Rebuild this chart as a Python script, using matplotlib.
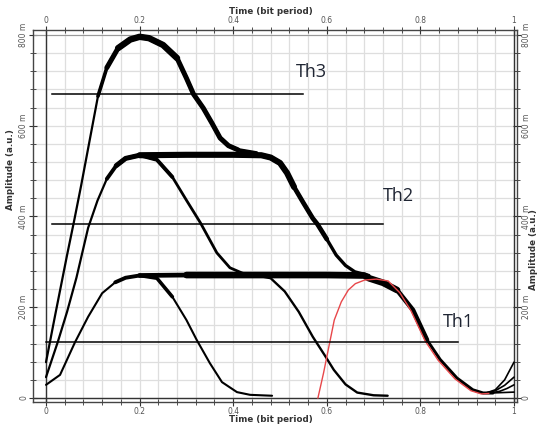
import matplotlib.pyplot as plt
import numpy as np

# eye diagram traces, time in bit period, amplitude in milli a.u.
t_top = [0, 0.02, 0.045, 0.06, 0.075, 0.09, 0.111, 0.13, 0.154, 0.18, 0.2, 0.22,
         0.25, 0.28, 0.30, 0.315, 0.336, 0.355, 0.372, 0.39, 0.41, 0.45]
y_top = [79, 185, 315, 390, 468, 550, 665, 728, 771, 790, 796, 793,
         778, 749, 705, 670, 639, 605, 573, 556, 547, 540]

t_l2_rise = [0, 0.025, 0.045, 0.065, 0.09, 0.11, 0.13, 0.15, 0.17, 0.2]
y_l2_rise = [46, 123, 190, 265, 375, 435, 483, 512, 528, 535]

t_l2_flat = [0.2, 0.3, 0.4, 0.46, 0.48, 0.50, 0.515, 0.53, 0.55, 0.57, 0.58,
             0.60, 0.62, 0.64, 0.66, 0.69]
y_l2_flat = [535, 536, 536, 535, 530, 518, 496, 465, 430, 396, 383,
             350, 315, 292, 278, 270]

t_l2_fall = [0.2, 0.237, 0.27, 0.30, 0.33, 0.365, 0.393, 0.42, 0.45]
y_l2_fall = [535, 525, 487, 436, 386, 320, 287, 275, 270]

t_l1_rise = [0, 0.03, 0.062, 0.09, 0.12, 0.148, 0.17, 0.2]
y_l1_rise = [29, 51, 123, 179, 231, 255, 265, 270]

t_l1_flat = [0.2, 0.3, 0.45, 0.6, 0.68, 0.69, 0.72, 0.75, 0.784, 0.814, 0.842,
             0.878, 0.912, 0.934, 0.955]
y_l1_flat = [270, 271, 271, 271, 270, 264, 254, 238, 194, 128, 85,
             44, 18, 11, 11]

t_l1_fall = [0.2, 0.237, 0.27, 0.30, 0.322, 0.35, 0.376, 0.408, 0.436, 0.483]
y_l1_fall = [270, 264, 223, 172, 128, 77, 35, 13, 7, 5]

t_l1_fall2 = [0.45, 0.48, 0.51, 0.54, 0.57, 0.595, 0.615, 0.64, 0.665, 0.70, 0.73]
y_l1_fall2 = [270, 264, 235, 190, 135, 95, 62, 30, 12, 6, 5]

t_red = [0.585, 0.597, 0.607, 0.62, 0.635, 0.65, 0.665, 0.685, 0.71, 0.735, 0.76,
         0.784, 0.814, 0.842, 0.878, 0.912, 0.934, 0.95]
y_red = [0, 55, 106, 172, 212, 238, 252, 260, 262, 258, 232,
         192, 126, 83, 42, 16, 9, 10]

t_end = [[0.94, 0.96, 0.98, 1.0], [0.94, 0.96, 0.98, 1.0],
         [0.95, 0.97, 0.985, 1.0], [0.95, 1.0]]
y_end = [[11, 18, 40, 79], [11, 16, 28, 46], [11, 15, 21, 29], [11, 13]]

# thresholds
th_names = ['Th1', 'Th2', 'Th3']
th_level = [123, 383, 670]
th_start = [0.0, 0.013, 0.013]
th_end = [0.88, 0.72, 0.549]
th_text_x = [0.848, 0.72, 0.534]
th_text_y = [167, 445, 718]

xticks = [0, 0.2, 0.4, 0.6, 0.8, 1.0]
xticklabels = ['0', '0.2', '0.4', '0.6', '0.8', '1']
yticks = [0, 200, 400, 600, 800]
yticklabels = ['0', '200 m', '400 m', '600 m', '800 m']

W, H = 539, 429
fig = plt.figure(figsize=(W / 100, H / 100), dpi=100)
ax = fig.add_axes([33 / W, 1 - 402 / H, 484 / W, 372 / H])
ax.set_xlim(-0.0278, 1.0064)
ax.set_ylim(-8.8, 811)

ax.set_xticks(xticks)
ax.set_xticks(np.arange(0, 1.001, 0.04), minor=True)
ax.set_yticks(yticks)
ax.set_yticks(np.arange(0, 801, 40), minor=True)
ax.grid(True, which='both', color='#dedede', lw=0.9)
ax.set_axisbelow(True)

ax.axhline(0, color='#333333', lw=1.0, zorder=1)
ax.axhline(800, color='#999999', lw=0.8, zorder=1)
ax.axvline(0, color='#333333', lw=1.0, zorder=1)
ax.axvline(1, color='#333333', lw=1.0, zorder=1)


def draw(t, y, lw, bands=()):
    kw = dict(color='black', solid_capstyle='round', solid_joinstyle='round', zorder=3)
    ax.plot(t, y, lw=lw, **kw)
    t = np.array(t)
    y = np.array(y)
    for a, b, w in bands:
        m = (t >= a) & (t <= b)
        ax.plot(t[m], y[m], lw=w, **kw)


draw(t_top, y_top, 1.6, [(0.111, 0.45, 2.6), (0.13, 0.42, 3.6), (0.154, 0.28, 4.6)])
draw(t_l2_rise, y_l2_rise, 1.6, [(0.13, 0.2, 2.8), (0.15, 0.2, 3.6)])
draw(t_l2_flat, y_l2_flat, 2.4, [(0.2, 0.6, 3.4), (0.2, 0.53, 4.4)])
draw(t_l2_fall, y_l2_fall, 2.0, [(0.2, 0.27, 2.8)])
draw(t_l1_rise, y_l1_rise, 1.5, [(0.148, 0.2, 2.8)])
draw(t_l1_flat, y_l1_flat, 2.2, [(0.2, 0.814, 3.4), (0.3, 0.75, 4.8)])
draw(t_l1_fall, y_l1_fall, 1.5, [(0.2, 0.27, 2.6)])
draw(t_l1_fall2, y_l1_fall2, 1.7)
for te, ye in zip(t_end, y_end):
    draw(te, ye, 1.2)

ax.plot(np.array(t_red) - 0.004, y_red, color='#e8474a', lw=1.0, zorder=4)

for name, lvl, x0, x1, tx, ty in zip(th_names, th_level, th_start, th_end,
                                     th_text_x, th_text_y):
    ax.plot([x0, x1], [lvl, lvl], color='black', lw=1.1, zorder=5)
    ax.text(tx, ty, name, fontsize=13, family='Open Sans', color='#1f2533',
            va='center', ha='left', zorder=6)

ax.set_xticklabels(xticklabels)
ax.set_yticklabels(yticklabels, rotation=90, va='center')

ax.tick_params(which='both', direction='inout', colors='#333333',
               top=True, right=True, labeltop=True, labelright=True,
               labelsize=5.5, labelcolor='#555555')
ax.tick_params(which='major', length=6, pad=0.5)
ax.tick_params(which='minor', length=4)
ax.yaxis.set_tick_params(labelrotation=90)

for s in ax.spines.values():
    s.set_color('#444444')
    s.set_linewidth(1.0)

lab_kw = dict(fontsize=6.3, fontweight='bold', color='#333333',
              ha='center', va='center')
fig.text(271 / W, 1 - 420 / H, 'Time (bit period)', **lab_kw)
fig.text(271 / W, 1 - 11 / H, 'Time (bit period)', **lab_kw)
fig.text(11 / W, 1 - 170 / H, 'Amplitude (a.u.)', rotation=90, **lab_kw)
fig.text(534 / W, 1 - 250 / H, 'Amplitude (a.u.)', rotation=90, **lab_kw)

fig.savefig('out.png', dpi=100)
